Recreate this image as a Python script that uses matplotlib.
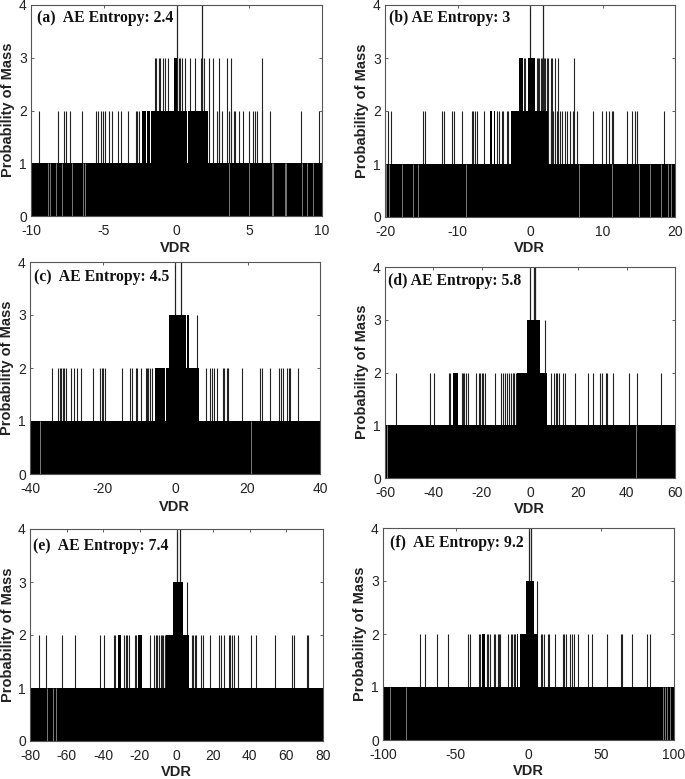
"""Probability of mass vs VDR, six AE entropy panels"""

import matplotlib
matplotlib.use("Agg")
import matplotlib.pyplot as plt

plt.rcParams["font.family"] = ["Liberation Sans", "DejaVu Sans"]
plt.rcParams["axes.unicode_minus"] = False

WIDTH, HEIGHT = 685, 779

LABELS = ["(a)  AE Entropy: 2.4", "(b) AE Entropy: 3", "(c)  AE Entropy: 4.5",
          "(d) AE Entropy: 5.8", "(e)  AE Entropy: 7.4", "(f)  AE Entropy: 9.2"]
XLIMS = [10, 20, 40, 60, 80, 100]
XTICKS = [[-10, -5, 0, 5, 10], [-20, -10, 0, 10, 20], [-40, -20, 0, 20, 40],
          [-60, -40, -20, 0, 20, 40, 60], [-80, -60, -40, -20, 0, 20, 40, 60, 80],
          [-100, -50, 0, 50, 100]]
YTICKS = [0, 1, 2, 3, 4]

# values, one set per panel
GAPS_A = [-8.8, -8.72, -8.3, -7.9, -7.2, -6.45, -6.3, 3.6, 5.0, 6.58, 6.66, 7.45, 7.55, 8.6, 9.0, 9.35]
SOLID2_A = [(-2.4, -2.1), (-2.0, -1.8), (-1.75, 0.7), (0.8, 2.15)]
SOLID3_A = [(-0.15, 0.0)]
SPIKE2_A = [-9.45, -8.15, -7.75, -7.6, -7.35, -6.5, -5.5, -5.4, -5.2, -5.05, -4.9, -4.65, -4.4,
            -4.0, -3.8, -3.3, -2.8, -2.7, -2.6, 2.75, 2.9, 3.1, 3.6, 3.75, 3.95, 4.05, 4.3, 4.6,
            5.0, 5.25, 5.4, 5.55, 5.85, 6.4, 8.55, 9.8, 9.98]
SPIKE3_A = [-1.5, -1.4, -1.2, -1.1, -0.95, -0.8, -0.55, 0.15, 0.27, 0.4, 0.57, 0.95, 1.3, 1.65,
            1.9, 2.2, 2.5, 2.9, 3.45, 3.75, 5.85]
SPIKE4_A = [0.0, 1.75]

GAPS_B = [-19.8, -19.4, -17.65, -16.2, -15.5, -8.85, 6.7, 11.35, 15.05, 16.6, 18.05, 19.1, 19.5]
SOLID2_B = [(-2.65, 2.5), (-5.5, -5.2), (-5.0, -4.8)]
SOLID3_B = [(-1.55, -1.3), (-1.2, -0.9), (-0.3, 0.7)]
SPIKE2_B = [-19.6, -19.2, -14.7, -14.55, -12.2, -11.9, -10.7, -10.5, -9.4, -8.05, -7.8, -7.6,
            -7.35, -6.4, -4.6, -4.3, -3.9, -3.7, -3.2, -3.0, 2.85, 3.2, 3.7, 4.15, 4.4, 4.8,
            5.05, 5.5, 5.9, 6.5, 8.65, 9.9, 10.45, 10.95, 11.25, 11.5, 13.4, 14.1, 14.5, 14.7, 18.45]
SPIKE3_B = [-0.8, -0.7, 0.9, 1.1, 1.3, 1.5, 1.7, 1.95, 2.1, 2.3, 2.5, 2.85, 3.1, 3.45, 3.8, 6.0]
SPIKE4_B = [0.05, 1.75]

GAPS_C = [-37.2, 21.0]
SOLID2_C = [(-5.5, -2.75), (-2.6, 4.6), (4.6, 6.7)]
SOLID3_C = [(-1.55, 3.1), (3.4, 3.85)]
SPIKE2_C = [-33.8, -32.2, -31.8, -31.4, -31.0, -30.6, -30.2, -28.6, -28.0, -27.0, -26.0, -22.5,
            -20.7, -20.2, -19.8, -19.3, -14.7, -12.4, -12.0, -10.8, -10.4, -9.5, -8.1, -7.7,
            -7.4, -7.0, -6.4, 8.6, 9.65, 10.1, 10.75, 11.5, 13.15, 13.6, 14.25, 14.7, 18.4, 23.5,
            23.9, 26.2, 28.8, 29.2, 29.7, 31.0, 31.35, 31.7, 33.8]
SPIKE3_C = [6.0]
SPIKE4_C = [0.0, 1.75]

GAPS_D = [-59.3, 43.9]
SOLID2_D = [(-5.5, 6.9), (-31.7, -29.9)]
SOLID3_D = [(-1.4, 4.15)]
SPIKE2_D = [-55.6, -41.4, -39.6, -33.7, -33.2, -28.3, -27.7, -27.2, -26.5, -25.8, -22.3, -21.1,
            -20.7, -19.9, -19.3, -18.8, -14.5, -12.0, -11.0, -10.2, -9.4, -8.7, -7.7, -7.2, -6.5,
            -5.9, 8.8, 9.9, 10.8, 11.3, 11.9, 13.8, 14.5, 18.6, 24.0, 26.2, 29.0, 29.7, 31.3, 31.9,
            34.2, 41.1, 44.4, 54.2]
SPIKE3_D = [6.2]
SPIKE4_D = [0.1, 1.75, 2.15]

GAPS_E = [-70.5, -67.6, -65.8]
SOLID2_E = [(-5.8, 6.7), (-31.8, -30.2), (-20.9, -19.1)]
SOLID3_E = [(-1.8, 3.8)]
SPIKE2_E = [-74.9, -71.5, -62.5, -55.6, -41.8, -39.6, -34.2, -33.5, -28.5, -27.6, -27.1, -26.0,
            -22.7, -22.2, -14.7, -12.2, -11.3, -10.5, -9.6, -8.7, -7.8, -7.3, -6.4, 8.2, 9.1, 10.0,
            10.9, 13.3, 14.2, 18.2, 23.3, 24.4, 26.0, 28.5, 29.3, 30.5, 31.3, 33.6, 40.7, 43.3,
            53.8, 63.3, 64.2, 71.1, 71.8]
SPIKE3_E = [5.8]
SPIKE4_E = [0.0, 1.8]

GAPS_F = [-95.2, -84.4, 92.7, 93.8, 95.4, 97.2]
SOLID2_F = [(-5.7, 6.7), (-31.9, -30.0), (-8.2, -7.2)]
SOLID3_F = [(-2.0, 3.7)]
SPIKE2_F = [-74.8, -71.3, -62.6, -55.5, -41.7, -39.9, -33.9, -33.0, -28.7, -27.8, -26.6, -23.9,
            -22.7, -21.3, -20.2, -19.3, -14.4, -12.2, -11.2, -10.3, -9.4, 8.5, 9.4, 10.6, 13.5,
            14.4, 18.3, 23.4, 24.5, 26.1, 28.7, 29.6, 31.4, 33.9, 40.8, 43.8, 53.9, 63.5, 64.2,
            71.3, 81.2, 83.5]
SPIKE3_F = [5.5]
SPIKE4_F = [0.0, 1.8]

GAPS = [GAPS_A, GAPS_B, GAPS_C, GAPS_D, GAPS_E, GAPS_F]
SOLID2 = [SOLID2_A, SOLID2_B, SOLID2_C, SOLID2_D, SOLID2_E, SOLID2_F]
SOLID3 = [SOLID3_A, SOLID3_B, SOLID3_C, SOLID3_D, SOLID3_E, SOLID3_F]
SPIKE2 = [SPIKE2_A, SPIKE2_B, SPIKE2_C, SPIKE2_D, SPIKE2_E, SPIKE2_F]
SPIKE3 = [SPIKE3_A, SPIKE3_B, SPIKE3_C, SPIKE3_D, SPIKE3_E, SPIKE3_F]
SPIKE4 = [SPIKE4_A, SPIKE4_B, SPIKE4_C, SPIKE4_D, SPIKE4_E, SPIKE4_F]

# pixel layout: left, right, top, bottom of each box, then label anchors
BOXES = [(31, 322, 5, 216), (385, 675, 5, 217), (30, 320, 262, 474),
         (385, 675, 267, 478), (30, 323, 529, 741), (383, 674, 528, 740)]
NOTE_POS = [(37, 18), (389, 18), (34, 277), (388, 281), (33, 546), (390, 543)]
XLABEL_POS = [(175, 248), (529, 248), (174, 507), (529, 509), (176, 772), (528, 771)]
YLABEL_POS = [(8, 110), (362, 111), (7, 368), (362, 372), (8, 635), (360, 634)]


def fx(px):
    return px / WIDTH


def fy(py):
    return 1 - py / HEIGHT


def draw_panel(fig, i):
    left, right, top, bottom = BOXES[i]
    ax = fig.add_axes([fx(left), fy(bottom), fx(right - left), (bottom - top) / HEIGHT])
    lim = XLIMS[i]

    # spikes go under the solid blocks so they don't show as grey lines inside them
    ax.vlines(SPIKE2[i], 0, 2, color="#222222", linewidth=0.8, zorder=1)
    ax.vlines(SPIKE3[i], 0, 3, color="#222222", linewidth=0.8, zorder=1)
    ax.vlines(SPIKE4[i], 0, 4, color="#222222", linewidth=0.9, zorder=1)
    ax.bar(-lim, 1, width=2 * lim, align="edge", color="black", linewidth=0, zorder=2)
    for lo, hi in SOLID2[i]:
        ax.bar(lo, 2, width=hi - lo, align="edge", color="black", linewidth=0, zorder=2)
    for lo, hi in SOLID3[i]:
        ax.bar(lo, 3, width=hi - lo, align="edge", color="black", linewidth=0, zorder=2)
    ax.vlines(GAPS[i], 0, 1, color="#bbbbbb", linewidth=0.45, zorder=3)

    ax.set_xlim(-lim, lim)
    ax.set_ylim(0, 4)
    ax.set_xticks(XTICKS[i])
    ax.set_yticks(YTICKS)
    ax.tick_params(direction="in", length=2.2, width=0.6, top=True, right=True,
                   color="#444444", labelcolor="#222222", labelsize=10, pad=3)
    ax.tick_params(axis="x", pad=6)
    for spine in ax.spines.values():
        spine.set_color("#555555")
        spine.set_linewidth(0.8)

    fig.text(fx(NOTE_POS[i][0]), fy(NOTE_POS[i][1]), LABELS[i], family="Liberation Serif",
             fontweight="bold", fontsize=11.3, ha="left", va="center", color="#111111")
    fig.text(fx(XLABEL_POS[i][0]), fy(XLABEL_POS[i][1]), "VDR", fontsize=10.5,
             fontweight="bold", ha="center", va="center", color="#222222")
    fig.text(fx(YLABEL_POS[i][0]), fy(YLABEL_POS[i][1]), "Probability of Mass", fontsize=10.5,
             fontweight="bold", rotation=90, ha="center", va="center", color="#222222")


fig = plt.figure(figsize=(WIDTH / 100, HEIGHT / 100), dpi=100)
for i in range(6):
    draw_panel(fig, i)
fig.savefig("out.png", dpi=100)
plt.close(fig)
